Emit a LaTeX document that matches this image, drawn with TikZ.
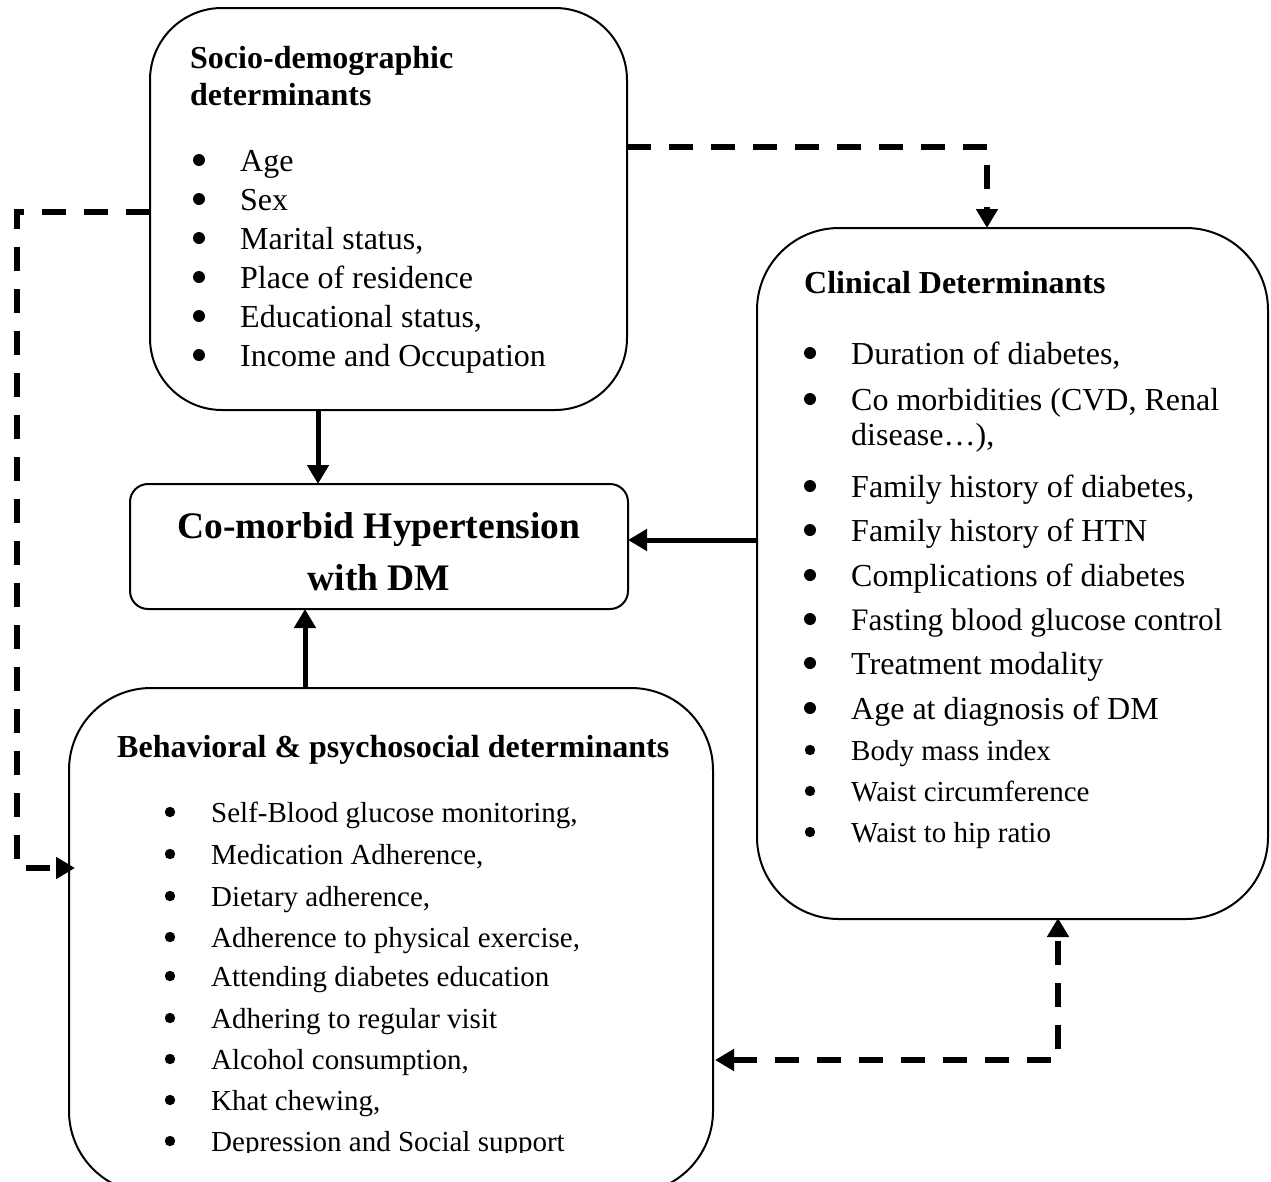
\documentclass[tikz,border=0pt]{standalone}
\usepackage{fontspec}
\setmainfont{Liberation Serif}
\usetikzlibrary{arrows.meta}
\begin{document}
\begin{tikzpicture}[x=1pt,y=-1pt,
  box/.style={draw,line width=2pt,inner sep=0pt,outer sep=0pt,anchor=north west},
  txt/.style={anchor=base west,inner sep=0pt,font=\fontsize{32}{38}\selectfont},
  stxt/.style={anchor=base west,inner sep=0pt,font=\fontsize{29}{35}\selectfont},
  head/.style={anchor=base west,inner sep=0pt,font=\fontsize{32}{38}\selectfont\bfseries},
  bighead/.style={anchor=base,inner sep=0pt,font=\fontsize{37.5}{45}\selectfont\bfseries},
  solidarrow/.style={line width=5pt,-{Triangle[width=21pt,length=19pt]}},
  dasharrow/.style={line width=6pt,dash pattern=on 24pt off 18pt,-{Triangle[width=21pt,length=19pt]}},
  dasharrows/.style={line width=6pt,dash pattern=on 24pt off 18pt,{Triangle[width=21pt,length=19pt]}-{Triangle[width=21pt,length=19pt]}}]
\useasboundingbox (0,0) rectangle (1271,1181);
\clip (0,0) rectangle (1271,1181);
% boxes
\node[box,rounded corners=72pt,minimum width=477pt,minimum height=402pt] (socio) at (150,8) {};
\node[box,rounded corners=18pt,minimum width=498pt,minimum height=125pt] (cm) at (130,484) {};
\node[box,rounded corners=82pt,minimum width=511pt,minimum height=691pt] (clin) at (757,228) {};
\node[box,rounded corners=82pt,minimum width=644pt,minimum height=505pt] (behav) at (69,688) {};
% helper coordinates
\coordinate (x318) at (318,0);
\coordinate (x305) at (305,0);
\coordinate (y540) at (0,540);
\coordinate (y147) at (0,147);
\coordinate (x987) at (987,0);
\coordinate (y212) at (0,212);
\coordinate (x17) at (17,0);
\coordinate (y868) at (0,868);
\coordinate (y1060) at (0,1060);
\coordinate (x1058) at (1058,0);
% socio text
\node[head] (sh1) at (190,68) {Socio-demographic};
\node[head] (sh2) at (190,105) {determinants};
\node[txt] (s1) at (240,171) {Age};
\node[txt] (s2) at (240,210) {Sex};
\node[txt] (s3) at (240,249) {Marital status,};
\node[txt] (s4) at (240,288) {Place of residence};
\node[txt] (s5) at (240,327) {Educational status,};
\node[txt] (s6) at (240,366) {Income and Occupation};
% comorbid text
\node[bighead] (cm1) at (379,538) {Co-morbid Hypertension};
\node[bighead] (cm2) at (379,590) {with DM};
% clinical text
\node[head] (ch) at (804,293) {Clinical Determinants};
\node[txt] (c1) at (851,364) {Duration of diabetes,};
\node[txt] (c2) at (851,410) {Co morbidities (CVD, Renal};
\node[txt] (c2b) at (851,445) {disease…),};
\node[txt] (c3) at (851,497) {Family history of diabetes,};
\node[txt] (c4) at (851,541) {Family history of HTN};
\node[txt] (c5) at (851,586) {Complications of diabetes};
\node[txt,font=\fontsize{31.3}{38}\selectfont] (c6) at (851,630) {Fasting blood glucose control};
\node[txt] (c7) at (851,674) {Treatment modality};
\node[txt] (c8) at (851,719) {Age at diagnosis of DM};
\node[stxt] (c9) at (851,760) {Body mass index};
\node[stxt] (c10) at (851,801) {Waist circumference};
\node[stxt] (c11) at (851,842) {Waist to hip ratio};
% behavioral text
\node[head] (bh) at (117,757) {Behavioral \& psychosocial determinants};
\node[stxt] (b1) at (211,822) {Self-Blood glucose monitoring,};
\node[stxt] (b2) at (211,864) {Medication Adherence,};
\node[stxt] (b3) at (211,906) {Dietary adherence,};
\node[stxt] (b4) at (211,947) {Adherence to physical exercise,};
\node[stxt] (b5) at (211,986) {Attending diabetes education};
\node[stxt] (b6) at (211,1028) {Adhering to regular visit};
\node[stxt] (b7) at (211,1069) {Alcohol consumption,};
\node[stxt] (b8) at (211,1110) {Khat chewing,};
\begin{scope}
\clip (0,0) rectangle (1271,1152);
\node[stxt] (b9) at (211,1151) {Depression and Social support};
\end{scope}
% bullets
\foreach \n in {s1,s2,s3,s4,s5,s6,c1,c2,c3,c4,c5,c6,c7,c8}
  \fill ([shift={(-41,-11)}]\n.base west) circle (6);
\foreach \n in {c9,c10,c11,b1,b2,b3,b4,b5,b6,b7,b8,b9}
  \fill ([shift={(-41,-10)}]\n.base west) circle (5.2);
% solid arrows
\draw[solidarrow] (socio.south -| x318) -- (cm.north -| x318);
\draw[solidarrow] (behav.north -| x305) -- (cm.south -| x305);
\draw[solidarrow] (clin.west |- y540) -- (cm.east |- y540);
% dashed arrows
\draw[dasharrow] (socio.east |- y147) -| (clin.north -| x987);
\draw[dasharrow] (socio.west |- y212) -- (x17 |- y212) -- (x17 |- y868) -- ([xshift=6pt]behav.west |- y868);
\draw[dasharrows] ([xshift=2pt]behav.east |- y1060) -| ([yshift=1pt]clin.south -| x1058);
\end{tikzpicture}
\end{document}
